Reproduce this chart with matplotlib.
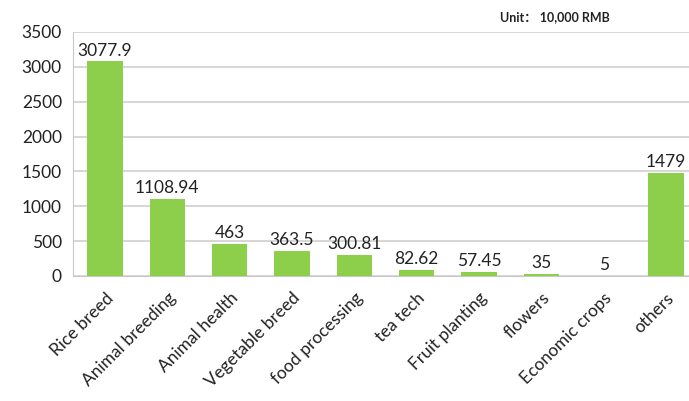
import matplotlib.pyplot as plt

categories = ["Rice breed", "Animal breeding", "Animal health", "Vegetable breed",
              "food processing", "tea tech", "Fruit planting", "flowers",
              "Economic crops", "others"]
values = [3077.9, 1108.94, 463, 363.5, 300.81, 82.62, 57.45, 35, 5, 1479]
labels = ["3077.9", "1108.94", "463", "363.5", "300.81", "82.62", "57.45", "35", "5", "1479"]
yticks = [0, 500, 1000, 1500, 2000, 2500, 3000, 3500]

plt.rcParams['font.family'] = ['Lato', 'Noto Sans CJK SC', 'DejaVu Sans']

W, H = 689, 401
fig = plt.figure(figsize=(W/100, H/100), dpi=100)
ax = fig.add_axes([73/W, (H-276)/H, (689-73)/W, (276-32)/H])

x = list(range(len(categories)))
ax.bar(x, values, width=0.57, color="#8DCF4A", zorder=3)
for xi, v, lab in zip(x, values, labels):
    ax.text(xi, v + 40, lab, ha='center', va='bottom', fontsize=12.5, color="#222222", zorder=4)

ax.set_ylim(0, 3500)
ax.set_xlim(-0.514, 9.37)
ax.set_yticks(yticks)
ax.set_yticklabels([str(t) for t in yticks], fontsize=12.5, color="#222222")
ax.yaxis.grid(True, color="#D0D0D0", linewidth=1.2, zorder=0)
ax.set_xticks(x)
ax.set_xticklabels(categories, rotation=45, ha='right', rotation_mode='anchor',
                   fontsize=12.5, color="#222222")
ax.tick_params(axis='both', length=0, pad=8)
ax.tick_params(axis='x', pad=10)
for s in ['top', 'right']:
    ax.spines[s].set_visible(False)
ax.spines['left'].set_color("#C8C8C8")
ax.spines['bottom'].set_color("#C8C8C8")

fig.text(555/W, 1 - 17/H, "Unit\uff1a 10,000 RMB", ha='center', va='center',
         fontsize=9, fontweight='bold', color="#222222",
         family=['Lato', 'Noto Sans CJK SC', 'DejaVu Sans'])

fig.savefig("out.png", dpi=100)
